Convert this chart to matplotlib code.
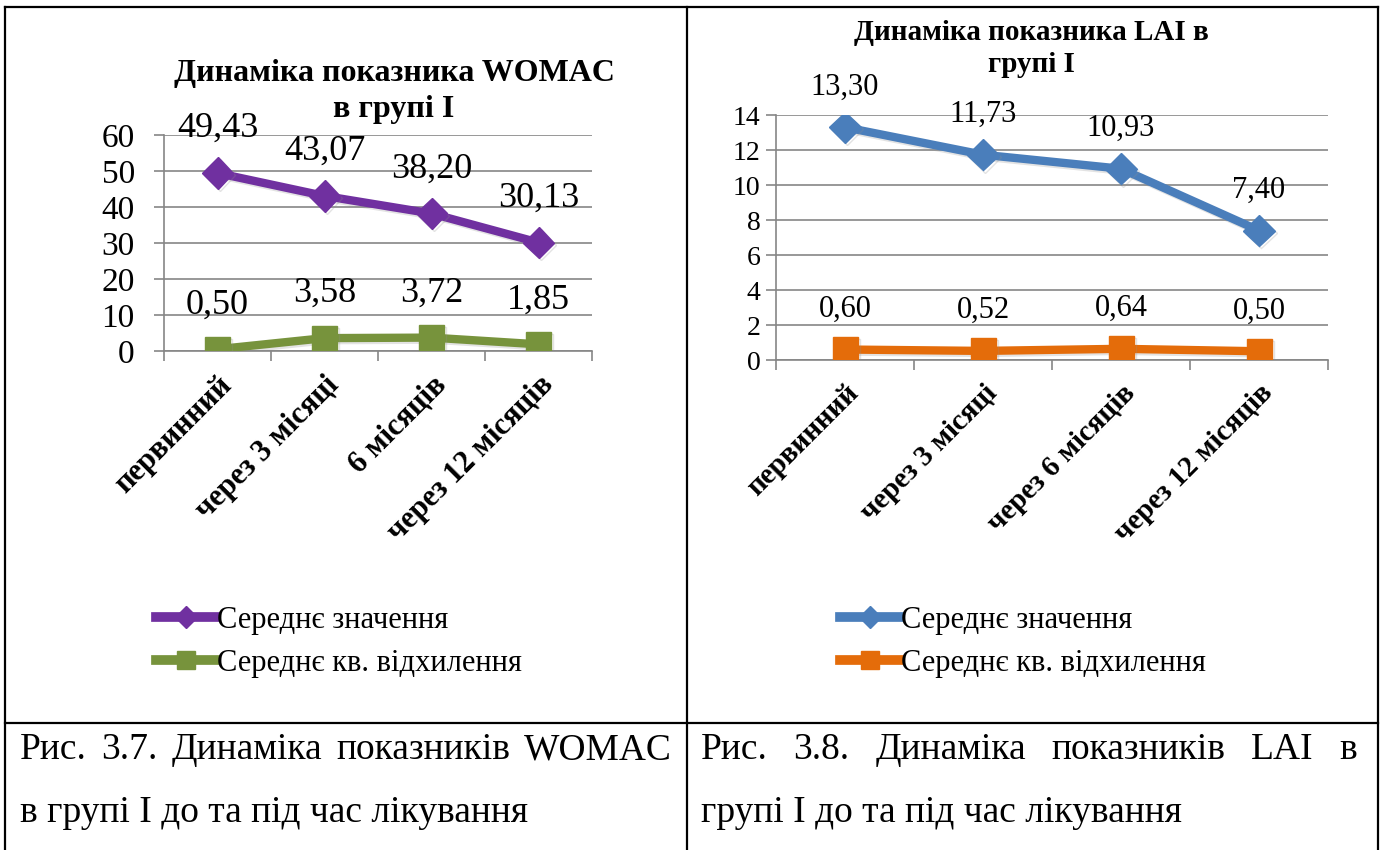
import matplotlib
matplotlib.use('Agg')
import matplotlib.pyplot as plt
import matplotlib.patheffects as pe
from matplotlib.lines import Line2D

plt.rcParams['font.family'] = ['Liberation Serif', 'DejaVu Serif']

W, H = 1383, 850

# WOMAC, група I
womac_cats = ['первинний', 'через 3 місяці', '6 місяців', 'через 12 місяців']
womac_mean = [49.43, 43.07, 38.20, 30.13]
womac_sd = [0.50, 3.58, 3.72, 1.85]

# LAI, група I
lai_cats = ['первинний', 'через 3 місяці', 'через 6 місяців', 'через 12 місяців']
lai_mean = [13.30, 11.73, 10.93, 7.40]
lai_sd = [0.60, 0.52, 0.64, 0.50]

series_names = ['Середнє значення', 'Середнє кв. відхилення']

grid_c = '#868686'
shadow = [pe.SimpleLineShadow(offset=(1.5, -1.5), shadow_color='#909090', alpha=0.25), pe.Normal()]


def px(x0, y0, x1, y1):
    # pixel box (top-left origin) -> figure fraction rect
    return [x0 / W, 1 - y1 / H, (x1 - x0) / W, (y1 - y0) / H]


def fmt(v):
    return ('%.2f' % v).replace('.', ',')


def chart(ax, cats, mean, sd, colors, ymax, ystep, ysize, dsize, xsize, doff, ypad):
    x = list(range(len(cats)))
    ax.plot(x, mean, color=colors[0], lw=6, marker='D', ms=16, zorder=3, path_effects=shadow,
            solid_joinstyle='round')
    ax.plot(x, sd, color=colors[1], lw=6, marker='s', ms=18, zorder=3, path_effects=shadow)
    for xi, v in zip(x, mean):
        ax.annotate(fmt(v), (xi, v), xytext=(0, doff), textcoords='offset points',
                    ha='center', va='center', fontsize=dsize)
    for xi, v in zip(x, sd):
        ax.annotate(fmt(v), (xi, v), xytext=(0, doff), textcoords='offset points',
                    ha='center', va='center', fontsize=dsize)
    ax.set_xlim(-0.5, len(cats) - 0.5)
    ax.set_ylim(0, ymax)
    ax.set_yticks(range(0, ymax + 1, ystep))
    ax.yaxis.grid(True, color=grid_c, lw=1.2)
    ax.set_axisbelow(True)
    for s in ['top', 'right']:
        ax.spines[s].set_visible(False)
    for s in ['left', 'bottom']:
        ax.spines[s].set_color(grid_c)
        ax.spines[s].set_linewidth(1.2)
    ax.tick_params(axis='y', length=7, width=1.2, color=grid_c, labelsize=ysize, pad=ypad)
    ax.set_xticks([i - 0.5 for i in range(len(cats) + 1)])
    ax.set_xticklabels([])
    ax.tick_params(axis='x', which='major', length=7, width=1.2, color=grid_c)
    ax.set_xticks(x, minor=True)
    ax.set_xticklabels(cats, minor=True, rotation=45, ha='right', va='top',
                       rotation_mode='anchor', fontsize=xsize, fontweight='bold')
    ax.tick_params(axis='x', which='minor', length=0, pad=14)


fig = plt.figure(figsize=(W / 100, H / 100), dpi=100)

ax1 = fig.add_axes(px(164, 135, 592, 351))
chart(ax1, womac_cats, womac_mean, womac_sd, ['#7030A0', '#77933C'], 60, 10, 24, 26, 22, 32, 14)

ax2 = fig.add_axes(px(776, 115, 1328, 360))
chart(ax2, lai_cats, lai_mean, lai_sd, ['#4A7EBB', '#E46C0A'], 14, 2, 20, 22, 21, 29, 4)

# заголовки діаграм
for txt, cx, cy, fs in [('Динаміка показника WOMAC', 394, 73, 23), ('в групі I', 394, 110, 23),
                        ('Динаміка показника LAI в', 1031, 32, 21), ('групі I', 1031, 65, 21)]:
    fig.text(cx / W, 1 - cy / H, txt, ha='center', va='center', fontsize=fs, fontweight='bold')

# легенди
for cols, lx in [(['#7030A0', '#77933C'], 156), (['#4A7EBB', '#E46C0A'], 840)]:
    handles = [Line2D([], [], color=cols[0], lw=7, marker='D', ms=11),
               Line2D([], [], color=cols[1], lw=7, marker='s', ms=13)]
    fig.legend(handles, series_names, loc='upper left', bbox_to_anchor=(lx / W, 1 - 606 / H),
               frameon=False, fontsize=22, handlelength=1.95, handletextpad=0.05,
               labelspacing=0.45, borderaxespad=0, borderpad=0)

# рамка таблиці
border = dict(color='black', lw=1.6, transform=fig.transFigure)
for (xa, ya, xb, yb) in [(5, 7, 1378, 7), (5, 7, 5, 850), (687, 7, 687, 850),
                         (1378, 7, 1378, 850), (5, 723, 1378, 723)]:
    fig.add_artist(Line2D([xa / W, xb / W], [1 - ya / H, 1 - yb / H], **border))


def justify(words, x0, x1, y, size):
    texts = [fig.text(0, 1 - y / H, w, fontsize=size, va='center', ha='left') for w in words]
    fig.canvas.draw()
    r = fig.canvas.get_renderer()
    widths = [t.get_window_extent(r).width for t in texts]
    gap = (x1 - x0 - sum(widths)) / (len(words) - 1)
    pos = x0
    for t, w in zip(texts, widths):
        t.set_x(pos / W)
        pos += w + gap


cap_size = 27
justify('Рис. 3.7. Динаміка показників WOMAC'.split(), 20, 672, 750, cap_size)
fig.text(20 / W, 1 - 813 / H, 'в групі I до та під час лікування', fontsize=cap_size, va='center')
justify('Рис. 3.8. Динаміка показників LAI в'.split(), 701, 1357, 750, cap_size)
fig.text(701 / W, 1 - 813 / H, 'групі I до та під час лікування', fontsize=cap_size, va='center')

fig.savefig('out.png', dpi=100)
